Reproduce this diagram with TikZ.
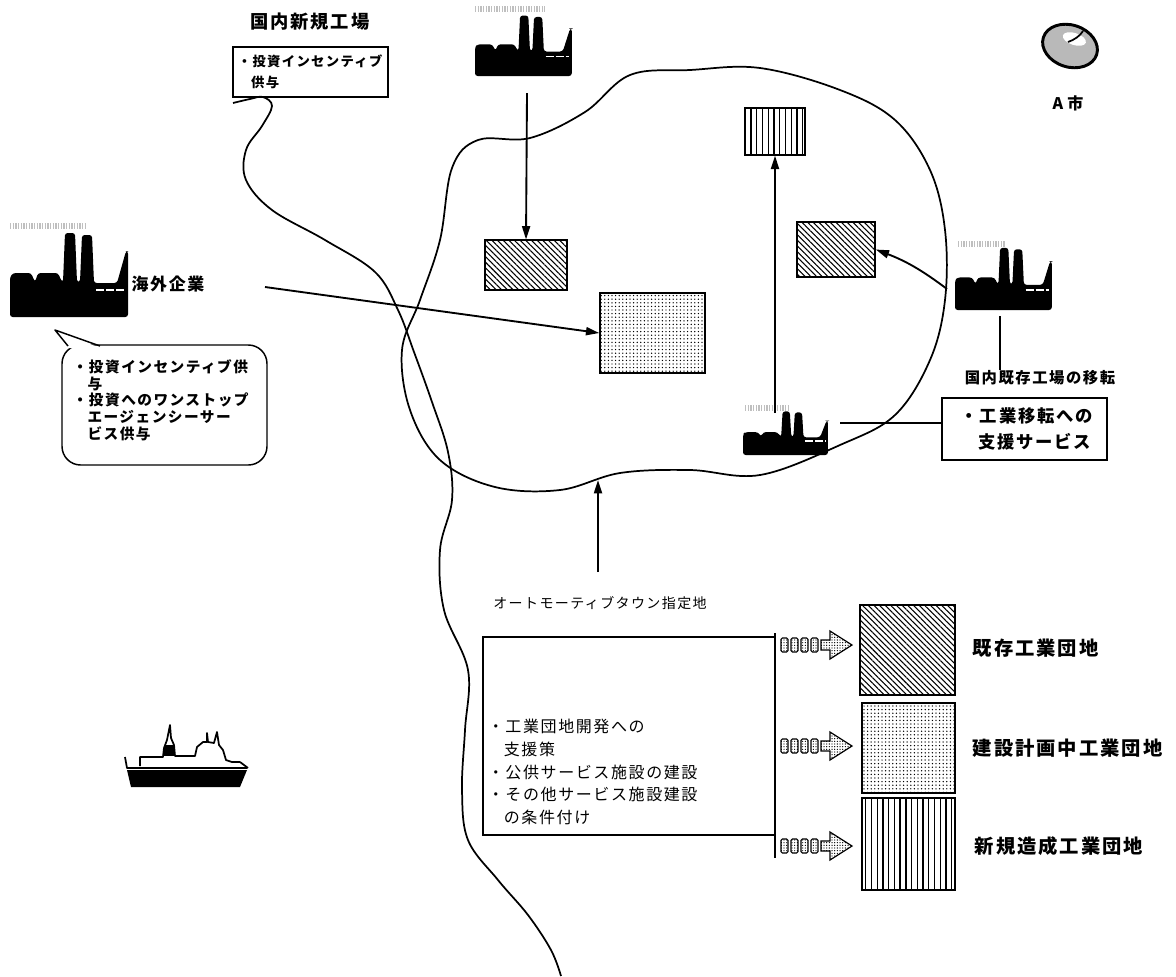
\documentclass[tikz,border=0pt]{standalone}
\usepackage{fontspec}
\newfontfamily\jp[LetterSpace=10]{Noto Sans CJK JP}
\usetikzlibrary{patterns.meta,arrows.meta}
\newcommand\fs[2]{\fontsize{#1}{#2}\selectfont}
\def\u{0.75pt}
% factory silhouette: origin = bottom-left corner of the building
\newcommand\factory[4]{%
  \begin{scope}[shift={(#1,#2)},xscale=#3,yscale=#4]
    \fill[rounded corners=2pt] (0,0) -- (0,-40) -- (3,-44) -- (21,-44) -- (25,-35)
      -- (28,-44) -- (48,-44) -- (52,-35) -- (53,-35) -- (55,-84) -- (65,-84)
      -- (67,-35) -- (70,-35) -- (72,-82) -- (82,-82) -- (84,-34) -- (107,-34)
      -- (116,-66) -- (118,-66) -- (118,0) -- cycle;
    \draw[white,line width=1pt,dash pattern=on 6pt off 1.5pt] (86,-27) -- (115,-27);
  \end{scope}}
% legend arrow icon at height #1
\newcommand\legicon[1]{%
  \draw[line width=1.5pt] (775,#1-12) -- (775,#1+12);
  \foreach \i in {0,1,2,3}
    \draw[line width=0.8pt,rounded corners=1pt,pattern={Dots[distance=2pt,radius=0.45pt]}]
      (781+10*\i,#1-7) rectangle (788+10*\i,#1+7);
  \draw[line width=0.9pt,line join=miter,pattern={Dots[distance=2pt,radius=0.5pt]}]
    (821,#1-5) -- (830,#1-5) -- (830,#1-14) -- (852,#1) -- (830,#1+14)
    -- (830,#1+5) -- (821,#1+5) -- cycle;}
\begin{document}
\begin{tikzpicture}[x=0.75pt,y=-0.75pt,
  line width=1.3pt,
  txt/.style={font=\jp, inner sep=0pt, align=left},
  conn/.style={line width=1.4pt},
  arr/.style={conn,-{Triangle[length=10pt,width=6pt]}},
  hatchbox/.style={draw,line width=1.1pt,inner sep=0pt,
    pattern={Lines[angle=-45,distance=3pt,line width=0.8pt]}},
  dotbox/.style={draw,line width=1.1pt,inner sep=0pt,
    pattern={Dots[distance=2.7pt,radius=0.55pt]}},
  stripebox/.style={draw,line width=1.1pt,inner sep=0pt,
    pattern={Lines[angle=90,distance=4.3pt,line width=1pt]}},
  smoke/.style={gray!50,line width=4pt,dash pattern=on 1pt off 1pt},
]
\useasboundingbox (0,0) rectangle (1176,976);
\fill[white] (0,0) rectangle (1176,976);

% river
\draw[line join=round] plot[smooth,tension=0.6] coordinates {
  (233,103) (250,99) (263,97) (272,106) (262,126) (246,150) (246,180)
  (272,210) (325,240) (375,272) (398,310) (414,352) (432,402) (448,452)
  (452,500) (440,550) (444,610) (468,670) (465,730) (462,790) (468,840)
  (498,880) (528,915) (551,950) (561,976)};

% designated area outline
\draw plot[smooth cycle,tension=0.6] coordinates {
  (452,168) (478,140) (530,138) (585,112) (630,75) (690,70) (760,68)
  (840,90) (895,120) (930,170) (945,230) (945,300) (930,360) (895,415)
  (840,445) (760,475) (690,470) (620,473) (560,490) (495,487) (440,460)
  (410,410) (402,350) (420,300) (440,240)};

% estates inside the area
\node[hatchbox,minimum width=82*\u,minimum height=50*\u] (hA) at (526,265) {};
\node[hatchbox,minimum width=78*\u,minimum height=55*\u] (hB) at (836,249.5) {};
\node[dotbox,minimum width=105*\u,minimum height=80*\u] (dC) at (652.5,333) {};
\node[stripebox,minimum width=60*\u,minimum height=47*\u] (sD) at (775,131.5) {};

% factories
\draw[smoke] (10,226) -- (85,226);
\factory{10}{317}{1}{1}
\draw[smoke] (475,9) -- (545,9);
\factory{475}{76}{0.82}{0.72}
\draw[smoke] (958,244) -- (1005,244);
\factory{955}{310}{0.82}{0.74}
\draw[smoke] (745,408) -- (790,408);
\factory{743}{455}{0.72}{0.52}

\coordinate (tfb) at (527,93);
\coordinate (bft) at (775,413);
\coordinate (rfl) at (947,289);
\coordinate (rfb) at (1000,316);
\coordinate (bfr) at (840,423);
\coordinate (ovs) at (265,287);
\coordinate (des) at (598,572);
\coordinate (edge) at (598,480);

% city mark
\draw[line width=2.2pt,fill=gray!55,rotate around={-18:(1070,46)}]
  (1070,46) ellipse [x radius=28,y radius=21];
\fill[white,rotate around={-18:(1070,46)}] (1072,38) ellipse [x radius=12,y radius=6];
\draw[line width=1.3pt] (1068,42) .. controls (1074,40) and (1080,36) .. (1083,31);
\node[txt,font=\jp\bfseries\fs{12pt}{14pt}] (city) at (1068,103) {A\hspace{3pt}市};

% new domestic plant
\node[txt,font=\jp\bfseries\fs{13.7pt}{16pt}] (tNew) at (310,22) {国内新規工場};
\node[draw,line width=1.1pt,minimum width=155*\u,minimum height=50*\u] (boxN) at (310.5,72) {};
\node[txt,font=\jp\bfseries\fs{10pt}{15.75pt},anchor=west] (boxNt) at (237,72)
  {・投資インセンティブ\\\hphantom{・}供与};
\draw[arr] (tfb) -- (hA.north);

% overseas company
\node[txt,font=\jp\bfseries\fs{12.7pt}{15pt}] (tOvs) at (168,284) {海外企業};
\draw[arr] (ovs) -- (dC.west);
\node[draw,line width=1.1pt,rounded corners=14pt,minimum width=205*\u,minimum height=120*\u] (bub) at (164.5,405) {};
\fill[white] (68,348) -- (55,330) -- (100,348) -- cycle;
\draw[line width=1.1pt,line join=round] (68,346) -- (55,330) -- (100,346);
\node[txt,font=\jp\bfseries\fs{11pt}{12.5pt},anchor=west] (bubt) at (72,400)
  {・投資インセンティブ供\\\hphantom{・}与\\・投資へのワンストップ\\\hphantom{・}エージェンシーサー\\\hphantom{・}ビス供与};

% relocation of existing plants
\draw[arr] (bft) -- (sD.south);
\draw[arr] (rfl) to[bend right=8] (hB.east);
\node[txt,font=\jp\bfseries\fs{11.5pt}{14pt}] (tExist) at (1040,378) {国内既存工場の移転};
\draw[conn] (rfb) -- (rfb |- tExist.north);
\node[draw,line width=1.1pt,minimum width=165*\u,minimum height=62*\u] (boxR) at (1024.5,429) {};
\node[txt,font=\jp\bfseries\fs{13pt}{19pt},anchor=west] (boxRt) at (960,429)
  {・工業移転への\\\hphantom{・}支援サービス};
\draw[conn] (bfr) -- (bfr -| boxR.west);

% designated area label
\node[txt,font=\jp\fs{10.5pt}{13pt}] (tDes) at (600,603) {オートモーティブタウン指定地};
\draw[arr] (des) -- (edge);

% legend
\node[draw,line width=1.1pt,minimum width=292*\u,minimum height=198*\u] (leg) at (629,736) {};
\node[txt,font=\jp\fs{12pt}{17pt},anchor=west] (legt) at (487,772)
  {・工業団地開発への\\\hphantom{・}支援策\\・公供サービス施設の建設\\・その他サービス施設建設\\\hphantom{・}の条件付け};
\legicon{645}
\legicon{746}
\legicon{846}
\node[hatchbox,minimum width=95*\u,minimum height=90*\u] (hL) at (907.5,650) {};
\node[dotbox,minimum width=93*\u,minimum height=90*\u] (dL) at (908.5,748) {};
\node[stripebox,minimum width=93*\u,minimum height=92*\u] (sL) at (908.5,844) {};
\node[txt,font=\jp\bfseries\fs{14.5pt}{17pt},anchor=west] (lh) at (972,648) {既存工業団地};
\node[txt,font=\jp\bfseries\fs{14.5pt}{17pt},anchor=west] (ld) at (972,748) {建設計画中工業団地};
\node[txt,font=\jp\bfseries\fs{14.5pt}{17pt},anchor=west] (ls) at (974,846) {新規造成工業団地};

% ship
\fill (127,770) -- (247,770) -- (240,787) -- (131,787) -- cycle;
\draw[line join=round] (125,757) -- (127,768) -- (247,768);
\draw[line join=round] (240,762) -- (248,768);
\draw[line join=round] (140,766) -- (140,757) -- (163,757) -- (164,748) -- (167,740)
  -- (170,725) -- (171,738) -- (174,745) -- (175,756) -- (195,756) -- (197,747)
  -- (203,742) -- (207,742) -- (207,733) -- (208,742) -- (214,743) -- (217,732)
  -- (219,745) -- (223,750) -- (226,760) -- (232,762) -- (240,762);
\fill (164,745) rectangle (175,756);
\end{tikzpicture}
\end{document}
